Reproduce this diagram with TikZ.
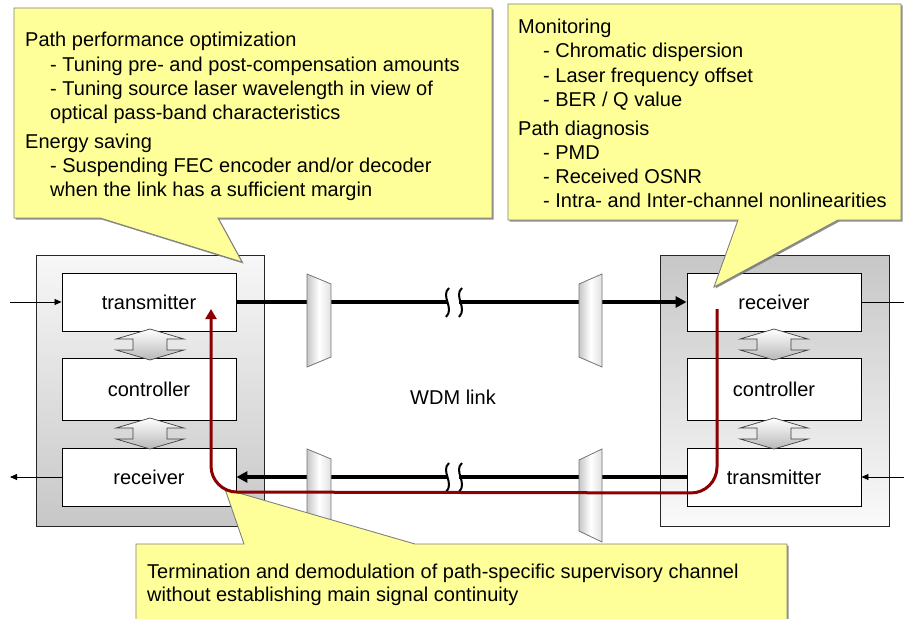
\documentclass[tikz,border=0pt]{standalone}
\usepackage{fontspec}
\setmainfont{Liberation Sans}
\usetikzlibrary{arrows.meta,shadows}
\definecolor{calloutfill}{RGB}{255,255,153}
\definecolor{redline}{RGB}{139,0,0}
\begin{document}
\begin{tikzpicture}[x=1pt,y=-1pt,
  font=\fontsize{20}{24}\selectfont,
  outerbox/.style={draw=black!85, line width=0.9pt},
  unitbox/.style={draw=black, line width=0.9pt, fill=white, minimum width=174pt, inner sep=0pt},
  mux/.style={draw=black!55, line width=0.8pt, left color=black!22, right color=black!12, middle color=white},
  thick link/.style={line width=3.2pt, black},
  thick arrow/.style={thick link, -{Triangle[length=11pt,width=11pt]}},
  thin arrow/.style={line width=0.8pt, -{Triangle[length=7pt,width=6pt]}},
  brk/.style={line width=2pt, black},
  redpath/.style={line width=3pt, draw=redline, -{Triangle[length=10pt,width=11pt]}},
  callout/.style={fill=calloutfill, draw=black!50, line width=0.9pt,
    drop shadow={shadow xshift=1.5pt, shadow yshift=-1.5pt, fill=black!55, opacity=0.8}},
  txt/.style={anchor=base west, inner sep=0pt},
  dblarrow/.pic={
    \path[draw=black!75, line width=0.7pt, top color=white, bottom color=black!28]
      (0,0) -- (34,10) -- (17,10) -- (17,21) -- (34,21) -- (0,31) -- (-34,21)
      -- (-17,21) -- (-17,10) -- (-34,10) -- cycle;
  }
]
\useasboundingbox (0,0) rectangle (904,618);

% stations
\path[outerbox, top color=black!3, bottom color=black!22] (36,255) rectangle (264,526);
\path[outerbox, top color=black!22, bottom color=black!2] (660,255) rectangle (889,526);

\node[unitbox, minimum height=58pt] (txL) at (149,302) {transmitter};
\node[unitbox, minimum height=62pt] (ctL) at (149,389) {controller};
\node[unitbox, minimum height=58pt] (rxL) at (149,477) {receiver};
\node[unitbox, minimum height=58pt] (rxR) at (774,302) {receiver};
\node[unitbox, minimum height=62pt] (ctR) at (774,389) {controller};
\node[unitbox, minimum height=58pt] (txR) at (774,477) {transmitter};

\pic at (150,329) {dblarrow};
\pic at (150,418) {dblarrow};
\pic at (774,329) {dblarrow};
\pic at (774,418) {dblarrow};

% break points and free ends
\coordinate (brkTa) at (447,302);
\coordinate (brkTb) at (459,302);
\coordinate (brkBa) at (447,477);
\coordinate (brkBb) at (459,477);
\coordinate (inL) at (10,302);
\coordinate (outL) at (10,477);
\coordinate (outR) at (904,302);
\coordinate (inR) at (904,477);

% thick WDM links
\draw[thick link] (txL.east) -- (brkTa);
\draw[thick arrow] (brkTb) -- (rxR.west);
\draw[thick link] (txR.west) -- (brkBb);
\draw[thick arrow] (brkBa) -- (rxL.east);

% thin client lines
\draw[thin arrow] (inL) -- (txL.west);
\draw[thin arrow] (rxL.west) -- (outL);
\draw[line width=0.8pt] (rxR.east) -- (outR);
\draw[thin arrow] (inR) -- (txR.east);

% muxes
\path[mux] (307,274) -- (331,284) -- (331,357) -- (307,367) -- cycle;
\path[mux] (579,284) -- (602,274) -- (602,367) -- (579,357) -- cycle;
\path[mux] (307,449) -- (331,459) -- (331,532) -- (307,542) -- cycle;
\path[mux] (579,460) -- (602,449) -- (602,542) -- (579,531) -- cycle;

% break symbols
\foreach \yy in {302,477}{
  \draw[brk] (449,\yy-14) .. controls (440,\yy-6) and (455,\yy+6) .. (446,\yy+15);
  \draw[brk] (462,\yy-14) .. controls (453,\yy-6) and (468,\yy+6) .. (459,\yy+15);
}

\node[inner sep=0pt] (wdm) at (453,397) {WDM link};

% callouts
\path[callout] (14,8) -- (492,8) -- (492,218) -- (218,218) -- (242,262) -- (100,218) -- (14,218) -- cycle;
\path[callout] (508,4) -- (901,4) -- (901,220) -- (838,220) -- (714,287) -- (738,220) -- (508,220) -- cycle;
\path[callout] (136,544) -- (244,544) -- (225,489) -- (415,544) -- (787,544) -- (787,640) -- (136,640) -- cycle;

\node[txt] (tl1) at (25,47) {Path performance optimization};
\node[txt] (tl2) at (50,71) {- Tuning pre- and post-compensation amounts};
\node[txt] (tl3) at (50,95) {- Tuning source laser wavelength in view of};
\node[txt] (tl4) at (50,119) {optical pass-band characteristics};
\node[txt] (tl5) at (25,148) {Energy saving};
\node[txt] (tl6) at (50,172) {- Suspending FEC encoder and/or decoder};
\node[txt] (tl7) at (50,196) {when the link has a sufficient margin};

\node[txt] (tr1) at (518,34) {Monitoring};
\node[txt] (tr2) at (543,58) {- Chromatic dispersion};
\node[txt] (tr3) at (543,82) {- Laser frequency offset};
\node[txt] (tr4) at (543,106) {- BER / Q value};
\node[txt] (tr5) at (518,135) {Path diagnosis};
\node[txt] (tr6) at (543,159) {- PMD};
\node[txt] (tr7) at (543,183) {- Received OSNR};
\node[txt] (tr8) at (543,207) {- Intra- and Inter-channel nonlinearities};

\node[txt] (bc1) at (147,578) {Termination and demodulation of path-specific supervisory channel};
\node[txt] (bc2) at (147,601) {without establishing main signal continuity};

% supervisory path
\coordinate (redS) at (717,309);
\coordinate (redE) at (211,309);
\draw[redpath, rounded corners=26pt] (redS) -- (717,493) -- (211,492) -- (redE);
\end{tikzpicture}
\end{document}
